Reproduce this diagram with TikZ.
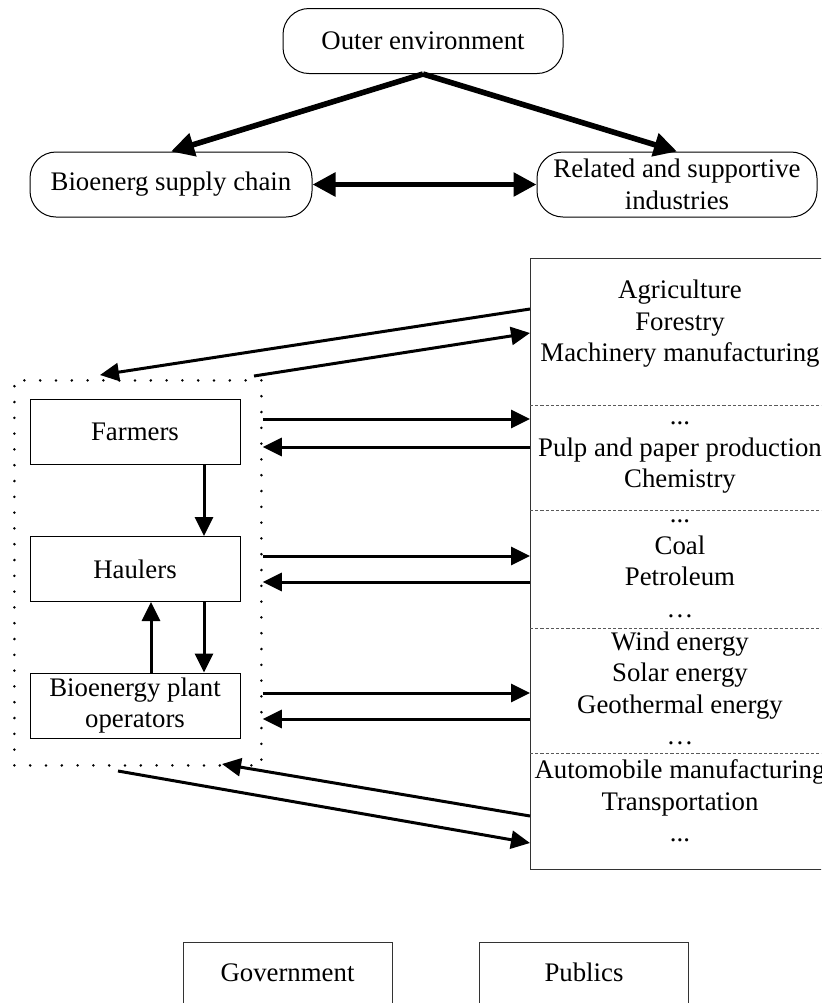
\documentclass[tikz,border=0pt]{standalone}
\usepackage{fontspec}
\setmainfont{Liberation Serif}
\usetikzlibrary{arrows.meta}
\begin{document}
\begin{tikzpicture}[x=0.5pt,y=-0.5pt,
  every node/.style={font=\fontsize{13.4}{15.75}\selectfont, inner sep=0pt},
  pill/.style={draw, line width=0.5pt, rounded corners=13pt, minimum height=32.5pt, align=center},
  unitbox/.style={draw, line width=0.5pt, minimum width=105pt, minimum height=32.5pt, align=center},
  bodybox/.style={draw, line width=0.5pt, black!80, text=black, minimum width=104.5pt, text height=19.5pt, text depth=20pt, anchor=base},
  sector/.style={align=center},
  bigarrow/.style={line width=2.8pt, -{Triangle[length=11.5pt,width=11.5pt]}},
  bigdouble/.style={line width=2.8pt, {Triangle[length=11.5pt,width=11.5pt]}-{Triangle[length=11.5pt,width=11.5pt]}},
  flow/.style={line width=1.5pt, -{Triangle[length=9.5pt,width=9pt]}},
  divider/.style={line width=0.5pt, black!65, dash pattern=on 1.6pt off 1pt},
  ring/.style={draw, line width=1.4pt, line cap=round, dash pattern=on 0pt off 7.9pt},
]
\clip (0,0) rectangle (821,1003);

% top level: environment and the two clusters
\node[pill, minimum width=140pt] (outer) at (423,41) {Outer environment};
\node[pill, minimum width=141pt] (chain) at (171,184.5) {Bioenerg supply chain};
\node[pill, minimum width=140pt] (related) at (677,184.5) {Related and supportive\\industries};

\draw[bigarrow] (outer.south) -- (chain.north);
\draw[bigarrow] (outer.south) -- (related.north);
\draw[bigdouble] (chain.east) -- (related.west);

% supply chain actors
\node[ring, minimum width=123.5pt, minimum height=192.5pt, anchor=north west] (chainbox) at (13,379) {};
\node[unitbox] (farmers) at (135,431.5) {Farmers};
\node[unitbox] (haulers) at (135,569) {Haulers};
\node[unitbox] (plant) at (135,705.5) {Bioenergy plant\\operators};

\draw[flow] (farmers.south -| 204,0) -- (haulers.north -| 204,0);
\draw[flow] (haulers.south -| 204,0) -- (plant.north -| 204,0);
\draw[flow] (plant.north -| 151,0) -- (haulers.south -| 151,0);

% related and supportive industries
\node[draw, line width=0.5pt, black!80, minimum width=155pt, minimum height=305.5pt, anchor=north west] (ind) at (530,258) {};
\draw[divider] (530,405) -- (840,405);
\draw[divider] (530,510) -- (840,510);
\draw[divider] (530,628) -- (840,628);
\draw[divider] (530,753) -- (840,753);

\node[sector] (sec1) at (680,324) {\strut Agriculture\\\strut Forestry\\\strut Machinery manufacturing};
\node[sector] (sec2) at (680,450) {\strut ...\\\strut Pulp and paper production\\\strut Chemistry};
\node[sector] (sec3) at (680,563.5) {\strut ...\\\strut Coal\\\strut Petroleum\\\strut …};
\node[sector] (sec4) at (680,691) {\strut Wind energy\\\strut Solar energy\\\strut Geothermal energy\\\strut …};
\node[sector] (sec5) at (680,804) {\strut Automobile manufacturing\\\strut Transportation\\\strut ...};

% exchanges between the chain and the industries
\coordinate (topIn) at (100,375);
\coordinate (topOut) at (254,376);
\coordinate (botIn) at (222,764);
\coordinate (botOut) at (118,771);

\draw[flow] (ind.west |- 0,309) -- (topIn);
\draw[flow] (topOut) -- (ind.west |- 0,333);

\draw[flow] (chainbox.east |- 0,419) -- (ind.west |- 0,419);
\draw[flow] (ind.west |- 0,447) -- (chainbox.east |- 0,447);
\draw[flow] (chainbox.east |- 0,556) -- (ind.west |- 0,556);
\draw[flow] (ind.west |- 0,582) -- (chainbox.east |- 0,582);
\draw[flow] (chainbox.east |- 0,693) -- (ind.west |- 0,693);
\draw[flow] (ind.west |- 0,719) -- (chainbox.east |- 0,719);

\draw[flow] (ind.west |- 0,816) -- (botIn);
\draw[flow] (botOut) -- (ind.west |- 0,843);

% government and publics
\node[bodybox] (gov) at (287.5,981) {Government};
\node[bodybox] (pub) at (584,981) {Publics};
\end{tikzpicture}
\end{document}
